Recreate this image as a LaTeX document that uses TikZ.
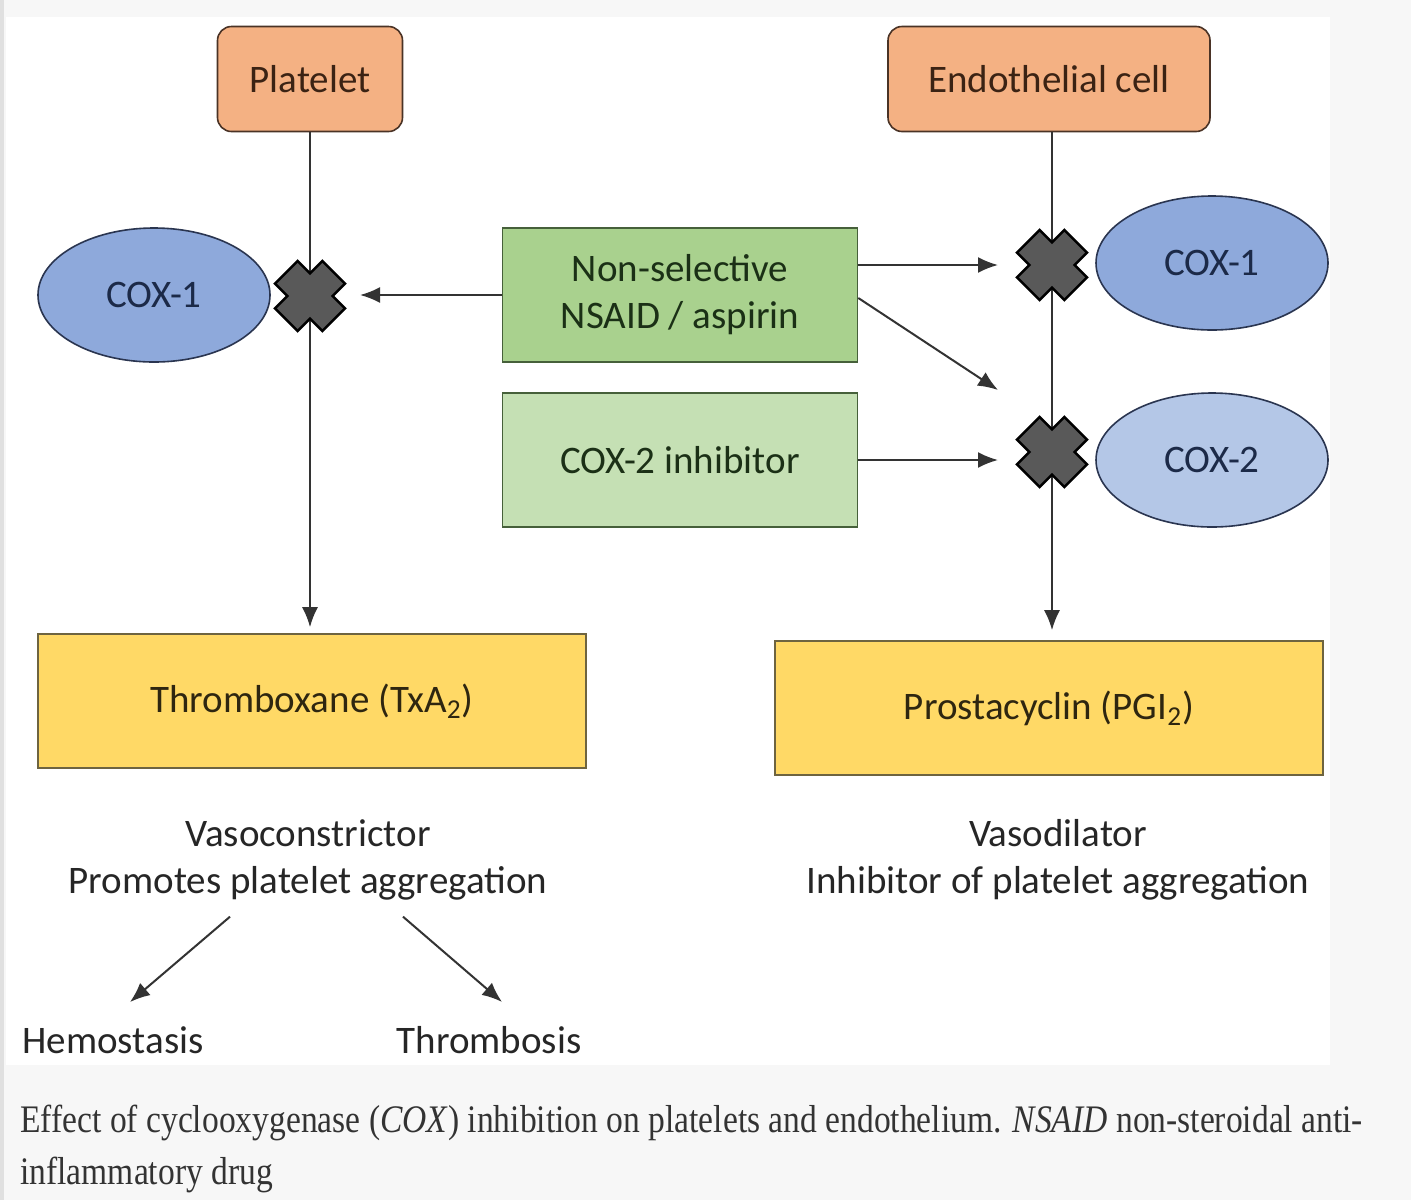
\documentclass[tikz,border=0pt]{standalone}
\usepackage{fontspec}
\setmainfont{Carlito}
\newfontfamily\captionfont[FakeStretch=0.86]{Liberation Serif}
\usetikzlibrary{arrows.meta,positioning,shapes.geometric}
\definecolor{cellfill}{HTML}{F4B183}
\definecolor{celldraw}{HTML}{4A3326}
\definecolor{celltext}{HTML}{3B2314}
\definecolor{cox1fill}{HTML}{8EA9DB}
\definecolor{cox2fill}{HTML}{B4C7E7}
\definecolor{enzdraw}{HTML}{2A3550}
\definecolor{enztext}{HTML}{1C2A48}
\definecolor{nsaidfill}{HTML}{A9D18E}
\definecolor{inhfill}{HTML}{C5E0B4}
\definecolor{drugdraw}{HTML}{46603A}
\definecolor{drugtext}{HTML}{1B3016}
\definecolor{prodfill}{HTML}{FFD966}
\definecolor{proddraw}{HTML}{6E6440}
\definecolor{prodtext}{HTML}{2E2610}
\definecolor{crossfill}{HTML}{595959}
\definecolor{linegray}{HTML}{333333}
\definecolor{pagegray}{HTML}{F7F7F7}
\newcommand{\labelsize}{\fontsize{19.5}{23.5}\selectfont}

\begin{document}
\begin{tikzpicture}[x=0.5pt,y=-0.5pt,
  blockx/.pic={\filldraw[fill=crossfill,draw=black,line width=1.3pt,rotate=45]
    (33.5,16) -- (16,16) -- (16,33.5) -- (-16,33.5) -- (-16,16) -- (-33.5,16) -- (-33.5,-16)
    -- (-16,-16) -- (-16,-33.5) -- (16,-33.5) -- (16,-16) -- (33.5,-16) -- cycle;}]
% shapes and colours
\tikzstyle{cell}=[draw=celldraw,fill=cellfill,thick,rounded corners=7pt,minimum height=52.5pt,text=celltext,font=\labelsize]
\tikzstyle{enzyme}=[ellipse,draw=enzdraw,thick,minimum width=116pt,minimum height=67pt,inner sep=0pt,text=enztext,font=\labelsize]
\tikzstyle{drug}=[draw=drugdraw,thick,minimum width=177.5pt,minimum height=67pt,align=center,text=drugtext,font=\labelsize]
\tikzstyle{product}=[draw=proddraw,fill=prodfill,thick,minimum width=274pt,minimum height=67pt,text=prodtext,font=\labelsize]
\tikzstyle{effect}=[align=center,inner sep=0pt,text=black!85,font=\labelsize]
\tikzstyle{flow}=[draw=linegray,line width=1pt,->,>={Latex[length=10pt,width=8pt]}]

% page
\useasboundingbox (0,0) rectangle (1411,1200);
\fill[pagegray] (0,0) rectangle (1411,1200);
\fill[white] (6,17) rectangle (1330,1065);
\fill[black!12] (0,0) rectangle (4,1200);

% nodes
\node[cell,minimum width=92.5pt] (platelet) at (310,79) {Platelet};
\node[cell,minimum width=161pt] (endo) at (1049,79) {Endothelial cell};
\node[enzyme,fill=cox1fill] (cox1L) at (154,295) {COX-1};
\node[enzyme,fill=cox1fill] (cox1R) at (1212,263) {COX-1};
\node[enzyme,fill=cox2fill] (cox2R) at (1212,460) {COX-2};
\node[drug,fill=nsaidfill] (nsaid) at (680,295) {Non-selective\\NSAID / aspirin};
\node[drug,fill=inhfill] (inh) at (680,460) {COX-2 inhibitor};
\node[product] (txa) at (312,701) {Thromboxane (TxA\textsubscript{2})};
\node[product] (pgi) at (1049,708) {Prostacyclin (PGI\textsubscript{2})};
\node[effect] (vaso) at (308,860) {Vasoconstrictor\\Promotes platelet aggregation};
\node[effect] (dila) at (1058,860) {Vasodilator\\Inhibitor of platelet aggregation};
\node[effect] (hemo) at (113,1040) {Hemostasis};
\node[effect] (thromb) at (489,1040) {Thrombosis};
\foreach \name/\x/\y in {L/310/296,R1/1052/265,R2/1052/452}
  \coordinate (x-\name) at (\x,\y);

% arrows
\draw[flow,shorten >=3pt] (platelet.south) -- (platelet.south |- txa.north);
\draw[flow,shorten >=5pt] ([xshift=1.5pt]endo.south) -- ([xshift=1.5pt]endo.south |- pgi.north);
\draw[flow,shorten >=25pt] (nsaid.west) -- (nsaid.west -| x-L);
\draw[flow,shorten >=27pt] (nsaid.east |- x-R1) -- (x-R1);
\draw[flow] ([yshift=-1.5pt]nsaid.east) -- ([xshift=-27pt,yshift=31pt]x-R2);
\draw[flow,shorten >=27pt] (inh.east) -- (inh.east -| x-R2);
\draw[flow] ([xshift=-39pt,yshift=-8pt]vaso.south) -- ([xshift=8.5pt,yshift=12pt]hemo.north);
\draw[flow] ([xshift=47.5pt,yshift=-8pt]vaso.south) -- ([xshift=6.5pt,yshift=12pt]thromb.north);

% blocks
\foreach \name in {L,R1,R2}
  \pic at (x-\name) {blockx};

% caption
\node[anchor=west,align=left,inner sep=0pt,text=black!80,font=\captionfont\fontsize{19.5}{26}\selectfont] (caption) at (20,1149)
  {Effect of cyclooxygenase (\textit{COX}) inhibition on platelets and endothelium. \textit{NSAID} non-steroidal anti-\\inflammatory drug};
\end{tikzpicture}
\end{document}
